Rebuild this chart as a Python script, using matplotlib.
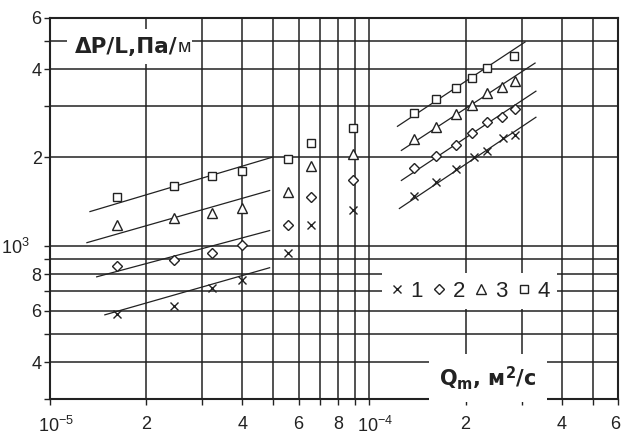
import matplotlib
matplotlib.use('Agg')
import matplotlib.pyplot as plt
from matplotlib.lines import Line2D
from matplotlib.ticker import FixedLocator, FixedFormatter, NullLocator
from matplotlib.transforms import ScaledTranslation

plt.rcParams['font.family'] = ['Liberation Sans', 'DejaVu Sans']
plt.rcParams['mathtext.fontset'] = 'custom'
plt.rcParams['mathtext.rm'] = 'Liberation Sans'
plt.rcParams['mathtext.it'] = 'Liberation Sans'
plt.rcParams['mathtext.bf'] = 'DejaVu Sans:bold'

# series 1..4 (x, diamond, triangle, square)
labels = ['1', '2', '3', '4']
markers = ['x', 'D', '^', 's']
marker_sizes = [6, 5, 7, 6]

q_1 = [1.62e-5, 2.44e-5, 3.21e-5, 4.0e-5, 5.58e-5, 6.54e-5, 8.91e-5,
       1.38e-4, 1.62e-4, 1.86e-4, 2.12e-4, 2.33e-4, 2.62e-4, 2.86e-4]
dp_1 = [585, 623, 718, 765, 946, 1180, 1328,
        1477, 1649, 1827, 2000, 2097, 2332, 2388]

q_2 = [1.62e-5, 2.44e-5, 3.21e-5, 4.0e-5, 5.58e-5, 6.54e-5, 8.91e-5,
       1.38e-4, 1.62e-4, 1.86e-4, 2.10e-4, 2.33e-4, 2.60e-4, 2.86e-4]
dp_2 = [854, 896, 946, 1008, 1180, 1471, 1669,
        1834, 2016, 2199, 2416, 2635, 2741, 2920]

q_3 = [1.62e-5, 2.44e-5, 3.21e-5, 4.0e-5, 5.58e-5, 6.54e-5, 8.91e-5,
       1.38e-4, 1.62e-4, 1.86e-4, 2.10e-4, 2.33e-4, 2.60e-4, 2.86e-4]
dp_3 = [1180, 1247, 1297, 1349, 1530, 1864, 2048,
        2305, 2533, 2818, 3013, 3325, 3471, 3640]

q_4 = [1.62e-5, 2.44e-5, 3.21e-5, 4.0e-5, 5.58e-5, 6.54e-5, 8.91e-5,
       1.38e-4, 1.62e-4, 1.86e-4, 2.10e-4, 2.33e-4, 2.84e-4]
dp_4 = [1471, 1604, 1722, 1792, 1969, 2233, 2513,
        2829, 3158, 3444, 3727, 4032, 4432]

# fitted lines, low and high flow ranges (end points)
fit_low_q = [[1.485e-5, 4.87e-5], [1.40e-5, 4.87e-5], [1.305e-5, 4.87e-5], [1.334e-5, 4.94e-5]]
fit_low_dp = [[581, 841], [783, 1126], [1024, 1542], [1307, 2000]]
fit_high_q = [[1.241e-4, 3.32e-4], [1.259e-4, 3.32e-4], [1.259e-4, 3.30e-4], [1.224e-4, 3.07e-4]]
fit_high_dp = [[1339, 2741], [1669, 3364], [2113, 4195], [2553, 4950]]

x_ticks = [1e-5, 2e-5, 3e-5, 4e-5, 5e-5, 6e-5, 7e-5, 8e-5, 9e-5,
           1e-4, 2e-4, 3e-4, 4e-4, 5e-4, 6e-4]
x_tick_labels = ['10$^{-5}$', '2', '', '4', '', '6', '', '8', '',
                 '10$^{-4}$', '2', '', '4', '', '6']
y_ticks = [300, 400, 500, 600, 700, 800, 900, 1000, 2000, 3000, 4000, 5000, 6000]
y_tick_labels = ['', '4', '', '6', '', '8', '', '10$^{3}$', '2', '', '4', '', '6']

ink = '#222222'

fig = plt.figure(figsize=(6.21, 4.43), dpi=100)
ax = fig.add_axes([50 / 621, 1 - 399 / 443, 568 / 621, 381.5 / 443])
ax.set_xscale('log')
ax.set_yscale('log')
ax.set_xlim(1e-5, 6e-4)
ax.set_ylim(300, 6000)

ax.xaxis.set_major_locator(FixedLocator(x_ticks))
ax.xaxis.set_major_formatter(FixedFormatter(x_tick_labels))
ax.xaxis.set_minor_locator(NullLocator())
ax.yaxis.set_major_locator(FixedLocator(y_ticks))
ax.yaxis.set_major_formatter(FixedFormatter(y_tick_labels))
ax.yaxis.set_minor_locator(NullLocator())

ax.grid(True, which='major', color=ink, lw=1.1)
ax.tick_params(axis='both', which='major', direction='out', length=4, width=1,
               color=ink, labelsize=13, labelcolor=ink)
ax.tick_params(axis='x', pad=8)
ax.tick_params(axis='y', pad=2)
for s in ax.spines.values():
    s.set_linewidth(1.5)
    s.set_color(ink)

all_q = [q_1, q_2, q_3, q_4]
all_dp = [dp_1, dp_2, dp_3, dp_4]
for i in range(4):
    ax.plot(all_q[i], all_dp[i], ls='none', marker=markers[i], ms=marker_sizes[i],
            mfc='white', mec=ink, mew=1.0, zorder=3)
    ax.plot(fit_low_q[i], fit_low_dp[i], color=ink, lw=0.9, zorder=2)
    ax.plot(fit_high_q[i], fit_high_dp[i], color=ink, lw=0.9, zorder=2)

# axis titles sit inside the grid on white patches
t = ax.text(0.044, 0.923, 'ΔP/L,Па/', transform=ax.transAxes, fontsize=15.5,
            family='DejaVu Sans', fontweight='bold', color=ink, ha='left', va='center',
            zorder=4, bbox=dict(boxstyle='square,pad=0.35', fc='white', ec='none'))
ax.annotate('м', xy=(1, 0.06), xycoords=t, fontsize=14, color=ink,
            ha='left', va='bottom', zorder=5,
            bbox=dict(boxstyle='square,pad=0.05', fc='white', ec='none'))

ax.text(0.771, 0.055, 'Q$_\\mathbf{m}$, м$^\\mathbf{2}$/с', transform=ax.transAxes,
        fontsize=15, family='DejaVu Sans', fontweight='bold', color=ink,
        ha='center', va='center', zorder=4,
        bbox=dict(boxstyle='square,pad=0.5', fc='white', ec='none'))

handles = [Line2D([], [], ls='none', marker=markers[i], ms=marker_sizes[i],
                  mfc='white', mec=ink, mew=1.0) for i in range(4)]
leg = ax.legend(handles, labels, ncol=4, loc='center', bbox_to_anchor=(0.739, 0.283),
                frameon=True, fancybox=False, edgecolor='none', facecolor='white',
                framealpha=1, fontsize=16, handlelength=0.6, handletextpad=0.3,
                columnspacing=0.45, borderpad=0.35, borderaxespad=0)
for txt in leg.get_texts():
    txt.set_color(ink)
leg.set_zorder(5)

# exponent labels: base centred on tick, exponent hanging over
xlabs = ax.get_xticklabels()
for lab in xlabs:
    if '10' in lab.get_text():
        lab.set_transform(lab.get_transform() + ScaledTranslation(6 / 100, 0, fig.dpi_scale_trans))
# keep the last label inside the figure
xlabs[-1].set_transform(xlabs[-1].get_transform() + ScaledTranslation(-3 / 100, 0, fig.dpi_scale_trans))
for lab in ax.get_yticklabels():
    if '10' in lab.get_text():
        lab.set_transform(lab.get_transform() + ScaledTranslation(-12 / 100, 0, fig.dpi_scale_trans))

fig.savefig('out.png', dpi=100)
